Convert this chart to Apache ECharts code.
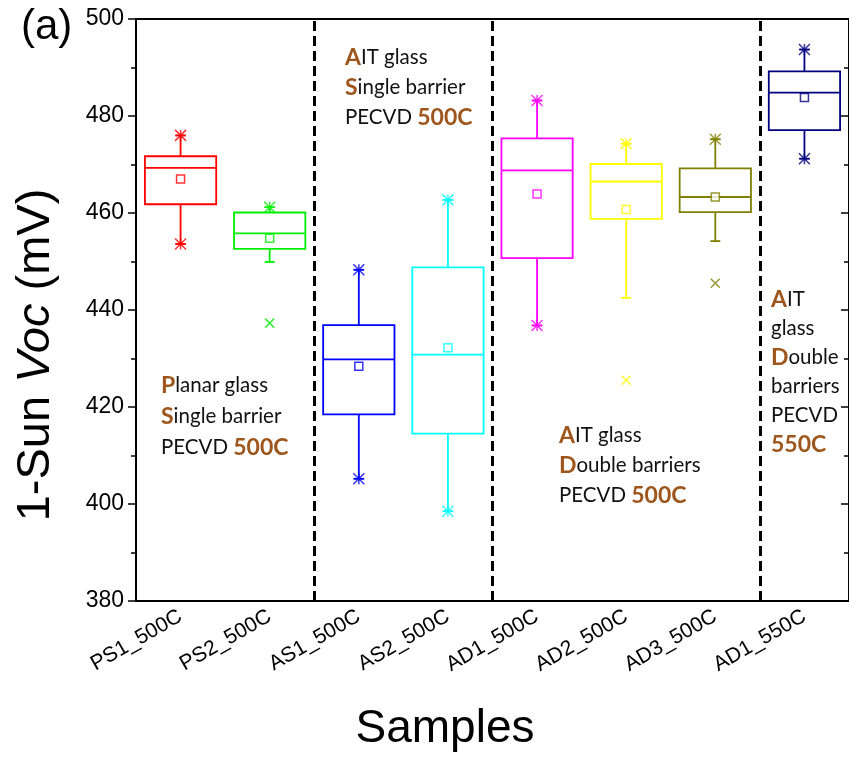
<!DOCTYPE html>
<html>
<head>
<meta charset="utf-8">
<script src="https://cdn.jsdelivr.net/npm/echarts@6/dist/echarts.min.js"></script>
<style>
  html, body { margin: 0; padding: 0; background: #fff; }
  #chart { width: 849px; height: 761px; }
</style>
</head>
<body>
<div id="chart"></div>
<script>
// samples and box statistics (mV)
var categories = ['PS1_500C', 'PS2_500C', 'AS1_500C', 'AS2_500C', 'AD1_500C', 'AD2_500C', 'AD3_500C', 'AD1_550C'];
var whiskerLow  = [453.6, 449.9, 405.2, 398.5, 436.8, 442.5, 454.2, 471.2];
var q1          = [461.8, 452.6, 418.5, 414.5, 450.7, 458.8, 460.2, 477.1];
var median      = [469.3, 455.8, 429.8, 430.8, 468.8, 466.5, 463.3, 484.8];
var q3          = [471.7, 460.1, 436.9, 448.8, 475.4, 470.1, 469.2, 489.2];
var whiskerHigh = [476.0, 461.2, 448.3, 462.7, 483.2, 474.3, 475.2, 493.7];
var means       = [467.0, 454.8, 428.4, 432.2, 463.9, 460.7, 463.3, 483.8];
var maxStars    = [476.0, 461.2, 448.3, 462.7, 483.2, 474.3, 475.2, 493.7];
var minStars    = [453.6, null, 405.2, 398.5, 436.8, null, null, 471.2];
var crosses     = [null, 437.3, null, null, null, 425.5, 445.5, null];
var yTicks = [380, 400, 420, 440, 460, 480, 500];
// group separators sit between categories (index units)
var separators = [2, 4, 7];

var boxColors = ['#ff0000', '#00ee00', '#0000ff', '#00ffff', '#ff00ff', '#ffff00', '#808000', '#000080'];
var brown = '#9e561c';
var axisFont = 'Liberation Sans, Arial, sans-serif';

var myChart = echarts.init(document.getElementById('chart'));

function renderBox(params, api) {
    var i = api.value(0);
    var mid = api.coord([i, api.value(3)]);
    var yLo = api.coord([i, api.value(1)])[1];
    var yQ1 = api.coord([i, api.value(2)])[1];
    var yQ3 = api.coord([i, api.value(4)])[1];
    var yHi = api.coord([i, api.value(5)])[1];
    var bw = api.size([1, 0])[0] * 0.8;
    var x = mid[0];
    var col = boxColors[i];
    function st() { return { stroke: col, lineWidth: 1.8, fill: null }; }
    return {
        type: 'group',
        children: [
            { type: 'rect', shape: { x: x - bw / 2, y: yQ3, width: bw, height: yQ1 - yQ3 }, style: { stroke: col, lineWidth: 1.8, fill: 'rgba(0,0,0,0)' } },
            { type: 'line', shape: { x1: x - bw / 2, y1: mid[1], x2: x + bw / 2, y2: mid[1] }, style: st() },
            { type: 'line', shape: { x1: x, y1: yQ3, x2: x, y2: yHi }, style: st() },
            { type: 'line', shape: { x1: x, y1: yQ1, x2: x, y2: yLo }, style: st() },
            { type: 'line', shape: { x1: x - 5, y1: yHi, x2: x + 5, y2: yHi }, style: st() },
            { type: 'line', shape: { x1: x - 5, y1: yLo, x2: x + 5, y2: yLo }, style: st() }
        ]
    };
}

function markPoints(values) {
    var out = [];
    values.forEach(function (v, i) {
        if (v === null) return;
        out.push({ value: [i, v], itemStyle: { color: 'rgba(0,0,0,0)', borderColor: boxColors[i] } });
    });
    return out;
}

var boxData = categories.map(function (c, i) {
    return [i, whiskerLow[i], q1[i], median[i], q3[i], whiskerHigh[i]];
});
var meanData = means.map(function (v, i) {
    return { value: [i, v], itemStyle: { color: '#fff', borderColor: boxColors[i] } };
});

function annoRich(lh) {
    return {
        n: { fontFamily: 'Lato', fontSize: 20.5, fill: '#111', lineHeight: lh },
        b: { fontFamily: 'Lato', fontSize: 23, fontWeight: 'bold', fill: brown, lineHeight: lh }
    };
}

option = {
    animation: false,
    backgroundColor: '#fff',
    grid: {
        left: 136,
        right: -4,
        top: 19,
        bottom: 160
    },
    xAxis: [
        {
            type: 'category',
            data: categories,
            position: 'bottom',
            axisLine: { lineStyle: { color: '#000', width: 2 } },
            axisTick: { alignWithLabel: true, length: 12, lineStyle: { color: '#000', width: 1.5 } },
            axisLabel: { rotate: 30, fontSize: 21, fontFamily: axisFont, color: '#000', margin: 14 }
        },
        {
            type: 'category',
            data: categories,
            position: 'bottom',
            axisLine: { show: false },
            axisTick: { alignWithLabel: true, inside: true, length: 11, lineStyle: { color: '#000', width: 1.5 } },
            axisLabel: { show: false }
        },
        {
            type: 'category',
            data: categories,
            position: 'top',
            axisLine: { lineStyle: { color: '#000', width: 2 } },
            axisTick: { alignWithLabel: true, inside: true, length: 11, lineStyle: { color: '#000', width: 1.5 } },
            axisLabel: { show: false }
        },
        {
            type: 'value',
            min: 0,
            max: categories.length,
            show: false
        }
    ],
    yAxis: [
        {
            type: 'value',
            min: 380,
            max: 500,
            interval: 20,
            axisLine: { show: true, lineStyle: { color: '#000', width: 2 } },
            axisTick: { show: true, length: 8, lineStyle: { color: '#000', width: 1.5 } },
            minorTick: { show: true, splitNumber: 2, length: 5, lineStyle: { color: '#000', width: 1.5 } },
            splitLine: { show: false },
            axisLabel: {
                fontSize: 23, fontFamily: axisFont, color: '#000', margin: 12,
                formatter: function (v) { return yTicks.indexOf(v) >= 0 ? String(v) : ''; }
            }
        },
        {
            type: 'value',
            min: 380,
            max: 500,
            interval: 20,
            position: 'right',
            axisLine: { show: true, lineStyle: { color: '#000', width: 2 } },
            axisTick: { show: true, inside: true, length: 8, lineStyle: { color: '#000', width: 1.5 } },
            minorTick: { show: true, splitNumber: 2, length: 5, lineStyle: { color: '#000', width: 1.5 } },
            splitLine: { show: false },
            axisLabel: { show: false }
        }
    ],
    graphic: [
        { type: 'text', left: 21, top: 6, style: { text: '(a)', font: '42px Liberation Sans, Arial', fill: '#000' } },
        {
            type: 'text', x: 36, y: 355, rotation: Math.PI / 2,
            style: {
                text: '{n|1-Sun }{i|Voc}{n| (mV)}',
                align: 'center', verticalAlign: 'middle',
                rich: {
                    n: { fontSize: 47, fontFamily: axisFont, fill: '#000' },
                    i: { fontSize: 47, fontFamily: axisFont, fontStyle: 'italic', fill: '#000' }
                }
            }
        },
        {
            type: 'text', x: 445, y: 729,
            style: { text: 'Samples', align: 'center', verticalAlign: 'middle', font: '46px Liberation Sans, Arial', fill: '#000' }
        },
        { type: 'text', left: 161, top: 374, style: { text: '{b|P}{n|lanar glass}\n{b|S}{n|ingle barrier}\n{n|PECVD }{b|500C}', rich: annoRich(31) } },
        { type: 'text', left: 345, top: 46, style: { text: '{b|A}{n|IT glass}\n{b|S}{n|ingle barrier}\n{n|PECVD }{b|500C}', rich: annoRich(30) } },
        { type: 'text', left: 559, top: 424, style: { text: '{b|A}{n|IT glass}\n{b|D}{n|ouble barriers}\n{n|PECVD }{b|500C}', rich: annoRich(30) } },
        { type: 'text', left: 771, top: 288, style: { text: '{b|A}{n|IT}\n{n|glass}\n{b|D}{n|ouble}\n{n|barriers}\n{n|PECVD}\n{b|550C}', rich: annoRich(29) } }
    ],
    series: [
        {
            name: 'separators',
            type: 'line',
            xAxisIndex: 3,
            yAxisIndex: 0,
            data: [],
            silent: true,
            markLine: {
                silent: true,
                symbol: 'none',
                label: { show: false },
                lineStyle: { color: '#000', width: 3, type: [10, 5] },
                data: separators.map(function (s) { return { xAxis: s }; })
            }
        },
        {
            name: 'box',
            type: 'custom',
            xAxisIndex: 0,
            yAxisIndex: 0,
            renderItem: renderBox,
            encode: { x: 0, y: [1, 2, 3, 4, 5] },
            data: boxData,
            z: 3
        },
        {
            name: 'max/min',
            type: 'scatter',
            symbol: 'path://M0,0L10,10M10,0L0,10M0,5L10,5M5,0L5,10',
            symbolSize: 11,
            itemStyle: { borderWidth: 1.5 },
            data: markPoints(maxStars).concat(markPoints(minStars)),
            z: 4
        },
        {
            name: 'outliers',
            type: 'scatter',
            symbol: 'path://M0,0L10,10M10,0L0,10',
            symbolSize: 9,
            itemStyle: { borderWidth: 1.5 },
            data: markPoints(crosses),
            z: 4
        },
        {
            name: 'mean',
            type: 'scatter',
            symbol: 'rect',
            symbolSize: 8,
            itemStyle: { borderWidth: 1.5 },
            data: meanData,
            z: 5
        }
    ]
};
myChart.setOption(option);
window.onresize = myChart.resize;
</script>
</body>
</html>
